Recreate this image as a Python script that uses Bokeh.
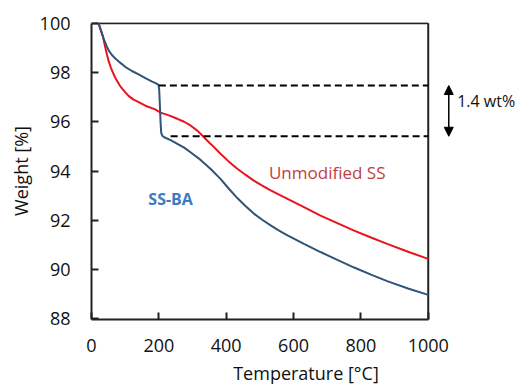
from bokeh.plotting import figure
from bokeh.models import Range1d, Arrow, NormalHead, Label, FixedTicker
from bokeh.embed import file_html
from bokeh.resources import INLINE

# SS-BA (blue)
ssba_t = [21, 28, 36, 44, 51, 60, 70, 85, 100, 120, 140, 160, 180, 192, 199, 201, 203, 205, 207, 211, 216, 235, 255, 275, 294, 324, 354, 383, 408, 433, 458, 482, 507, 532, 557, 582, 631, 680, 730, 780, 830, 878, 940, 1000]
ssba_w = [100.0, 99.72, 99.38, 99.1, 98.9, 98.72, 98.58, 98.4, 98.23, 98.06, 97.92, 97.77, 97.63, 97.56, 97.5, 97.3, 96.7, 96.0, 95.55, 95.42, 95.37, 95.25, 95.1, 94.95, 94.76, 94.45, 94.08, 93.68, 93.28, 92.9, 92.57, 92.27, 92.02, 91.79, 91.58, 91.39, 91.04, 90.71, 90.39, 90.08, 89.79, 89.53, 89.23, 88.97]
# Unmodified SS (red)
ss_t = [21, 28, 34, 38, 42, 46, 51, 58, 65, 70, 85, 100, 110, 125, 140, 160, 189, 205, 230, 255, 275, 294, 315, 334, 350, 364, 383, 408, 433, 458, 482, 507, 532, 582, 631, 680, 730, 780, 830, 878, 940, 1000]
ss_w = [100.0, 99.7, 99.45, 99.2, 98.95, 98.72, 98.46, 98.18, 97.95, 97.8, 97.45, 97.2, 97.05, 96.9, 96.8, 96.65, 96.5, 96.37, 96.26, 96.12, 96.0, 95.85, 95.63, 95.37, 95.15, 94.97, 94.7, 94.38, 94.09, 93.84, 93.61, 93.41, 93.21, 92.87, 92.53, 92.19, 91.88, 91.58, 91.3, 91.04, 90.72, 90.43]

upper_level = 97.47
lower_level = 95.41
upper_start = 200
lower_start = 235
gap_label = "1.4 wt%"
gap_label_y = 96.86

x_min, x_max = 0, 1000
y_min, y_max = 88, 100
x_ticks = [0, 200, 400, 600, 800, 1000]
y_ticks = [88, 90, 92, 94, 96, 98, 100]

FONT = "Open Sans"
EDGE = "#222222"

# frame extends to the right of x=1000 to hold the gap annotation
X_VIEW_END = 1274
Y_PAD = 0.03

p = figure(width=520, height=388, output_backend="svg", toolbar_location=None,
           x_range=Range1d(x_min, X_VIEW_END), y_range=Range1d(y_min - Y_PAD, y_max + Y_PAD),
           min_border_left=91, min_border_right=0, min_border_top=22, min_border_bottom=69)
p.xgrid.visible = False
p.ygrid.visible = False
p.outline_line_color = None

for ax in (p.xaxis[0], p.yaxis[0]):
    ax.axis_line_color = EDGE
    ax.axis_line_width = 2
    ax.major_tick_in = 7
    ax.major_tick_out = 0
    ax.major_tick_line_width = 2
    ax.major_tick_line_color = EDGE
    ax.minor_tick_line_color = None
    ax.major_label_text_font = FONT
    ax.major_label_text_font_size = "18px"
    ax.major_label_text_color = "#111111"
    ax.axis_label_text_font = FONT
    ax.axis_label_text_font_size = "18px"
    ax.axis_label_text_font_style = "normal"
    ax.axis_label_text_color = "#111111"

p.xaxis.ticker = FixedTicker(ticks=x_ticks)
p.yaxis.ticker = FixedTicker(ticks=y_ticks)
p.xaxis.bounds = (x_min, x_max)
p.yaxis.bounds = (y_min, y_max)
p.xaxis.axis_label = "Temperature [°C]"
p.yaxis.axis_label = "Weight [%]"
p.xaxis.major_label_standoff = 19
p.yaxis.major_label_standoff = 21
p.xaxis.axis_label_standoff = 6
p.yaxis.axis_label_standoff = 4

# top and right edges of the plot box
p.segment(x0=[x_min, x_max], y0=[y_max, y_min - Y_PAD], x1=[x_max, x_max], y1=[y_max, y_max],
          line_color=EDGE, line_width=2)

p.line(ss_t, ss_w, line_color="#e8141c", line_width=2)
p.line(ssba_t, ssba_w, line_color="#2f5478", line_width=2)

p.segment(x0=[upper_start, lower_start], y0=[upper_level, lower_level],
          x1=[x_max, x_max], y1=[upper_level, lower_level],
          line_color="black", line_width=2, line_dash="7 4")

mid = (upper_level + lower_level) / 2
arrow_x = 1061
for target in (upper_level, lower_level):
    p.add_layout(Arrow(x_start=arrow_x, y_start=mid, x_end=arrow_x, y_end=target,
                       end=NormalHead(size=9, fill_color="black", line_color="black"),
                       line_width=1.5, line_color="black"))
p.add_layout(Label(x=1086, y=gap_label_y, text=gap_label, text_font=FONT, text_font_size="16px",
                   text_baseline="middle", text_color="#111111"))

p.add_layout(Label(x=235, y=92.87, text="SS-BA", text_font=FONT, text_font_size="16px",
                   text_font_style="bold", text_align="center", text_baseline="middle",
                   text_color="#3b7bbf"))
p.add_layout(Label(x=700, y=93.95, text="Unmodified SS", text_font=FONT, text_font_size="17px",
                   text_align="center", text_baseline="middle", text_color="#c0403f"))

open("out.html", "w").write(file_html(p, INLINE))
